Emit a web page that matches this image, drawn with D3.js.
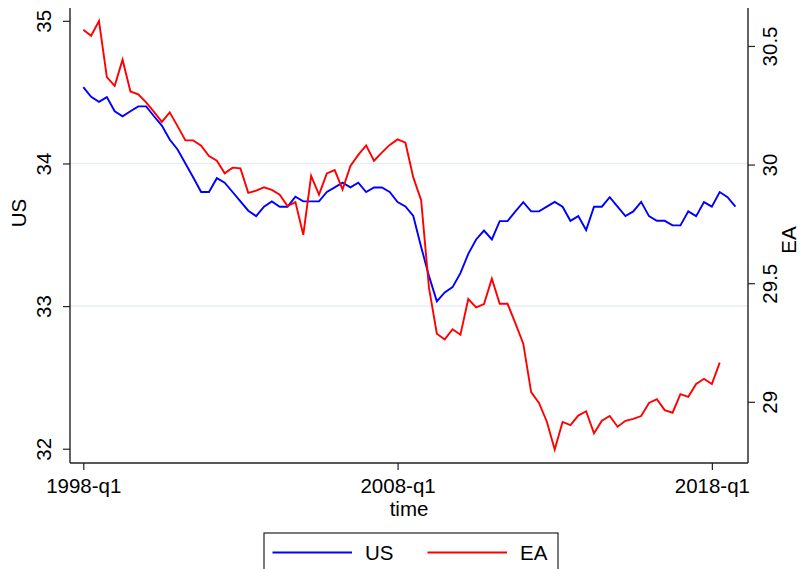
<!DOCTYPE html>
<html>
<head>
<meta charset="utf-8">
<script src="https://cdn.jsdelivr.net/npm/d3@7/dist/d3.min.js"></script>
<style>
  html, body { margin: 0; padding: 0; background: #fff; }
  svg { display: block; font-family: "Liberation Sans", Arial, sans-serif; }
</style>
</head>
<body>
<svg id="chart" width="801" height="569"></svg>
<script>
// Quarterly series, 1998-q1 onward
const usValues = [
  34.535, 34.467, 34.432, 34.465, 34.366, 34.331, 34.366, 34.400, 34.400, 34.331,
  34.266, 34.168, 34.098, 34.000, 33.902, 33.800, 33.800, 33.897, 33.865, 33.800,
  33.734, 33.669, 33.631, 33.697, 33.734, 33.697, 33.697, 33.767, 33.734, 33.734,
  33.734, 33.800, 33.832, 33.865, 33.832, 33.865, 33.800, 33.832, 33.832, 33.800,
  33.729, 33.699, 33.632, 33.415, 33.210, 33.033, 33.096, 33.133, 33.231, 33.366,
  33.467, 33.530, 33.467, 33.596, 33.596, 33.664, 33.729, 33.664, 33.664, 33.697,
  33.730, 33.697, 33.598, 33.631, 33.533, 33.697, 33.697, 33.764, 33.697, 33.631,
  33.664, 33.731, 33.631, 33.598, 33.598, 33.566, 33.566, 33.664, 33.631, 33.729,
  33.697, 33.800, 33.764, 33.697
];

const eaValues = [
  30.568, 30.543, 30.605, 30.369, 30.332, 30.442, 30.308, 30.296, 30.262, 30.222,
  30.180, 30.220, 30.162, 30.102, 30.102, 30.080, 30.036, 30.016, 29.963, 29.987,
  29.984, 29.881, 29.890, 29.904, 29.893, 29.873, 29.825, 29.842, 29.704, 29.952,
  29.873, 29.963, 29.977, 29.895, 29.994, 30.041, 30.081, 30.016, 30.050, 30.083,
  30.106, 30.092, 29.946, 29.850, 29.480, 29.287, 29.263, 29.306, 29.283, 29.433,
  29.398, 29.412, 29.519, 29.413, 29.413, 29.331, 29.245, 29.041, 28.995, 28.916,
  28.799, 28.915, 28.902, 28.942, 28.960, 28.867, 28.920, 28.940, 28.895, 28.920,
  28.928, 28.940, 28.995, 29.011, 28.965, 28.954, 29.032, 29.021, 29.075, 29.097,
  29.075, 29.165
];

const xTickIndex = [0, 40, 80];
const xTickLabels = ["1998-q1", "2008-q1", "2018-q1"];
const usTicks = [32, 33, 34, 35];
const usGrid = [33, 34];
const eaTicks = [29, 29.5, 30, 30.5];
const seriesNames = ["US", "EA"];
const seriesColors = ["#0000ff", "#ff0000"];

const svg = d3.select("#chart");
const plot = { left: 70, right: 748, top: 8, bottom: 463 };
const fontSize = 20.5;
const axisColor = "#222";

const x = d3.scaleLinear().domain([-1.69, 84.6]).range([plot.left, plot.right]);
const yUS = d3.scaleLinear().domain([31.9, 35.09]).range([plot.bottom, plot.top]);
const yEA = d3.scaleLinear().domain([28.742, 30.66]).range([plot.bottom, plot.top]);

// grid lines
svg.append("g").selectAll("line").data(usGrid).join("line")
  .attr("x1", plot.left).attr("x2", plot.right)
  .attr("y1", d => yUS(d)).attr("y2", d => yUS(d))
  .attr("stroke", "#e6eef2").attr("stroke-width", 1.5);

// series lines
const lineUS = d3.line().x((d, i) => x(i)).y(d => yUS(d));
const lineEA = d3.line().x((d, i) => x(i)).y(d => yEA(d));

svg.append("path").datum(usValues).attr("d", lineUS)
  .attr("fill", "none").attr("stroke", seriesColors[0])
  .attr("stroke-width", 1.9).attr("stroke-linejoin", "miter");
svg.append("path").datum(eaValues).attr("d", lineEA)
  .attr("fill", "none").attr("stroke", seriesColors[1])
  .attr("stroke-width", 1.9).attr("stroke-linejoin", "miter");

// left axis (labels rotated, reading upward)
const leftAxis = svg.append("g").attr("transform", `translate(${plot.left},0)`)
  .call(d3.axisLeft(yUS).tickValues(usTicks).tickSize(7).tickFormat(d3.format("d")));
leftAxis.select(".domain").attr("d", `M0,${plot.top}V${plot.bottom}`);
leftAxis.selectAll("text")
  .attr("transform", "translate(-19,0) rotate(-90)")
  .attr("x", 0).attr("y", 0).attr("dy", 0)
  .attr("text-anchor", "middle");

// right axis
const rightAxis = svg.append("g").attr("transform", `translate(${plot.right},0)`)
  .call(d3.axisRight(yEA).tickValues(eaTicks).tickSize(7).tickFormat(d => String(d)));
rightAxis.select(".domain").attr("d", `M0,${plot.top}V${plot.bottom}`);
rightAxis.selectAll("text")
  .attr("transform", "translate(29,0) rotate(-90)")
  .attr("x", 0).attr("y", 0).attr("dy", 0)
  .attr("text-anchor", "middle");

// bottom axis
const bottomAxis = svg.append("g").attr("transform", `translate(0,${plot.bottom})`)
  .call(d3.axisBottom(x).tickValues(xTickIndex).tickSize(7)
    .tickFormat((d, i) => xTickLabels[i]));
bottomAxis.select(".domain").attr("d", `M${plot.left},0H${plot.right}`);
bottomAxis.selectAll("text").attr("y", 30).attr("dy", 0);

[leftAxis, rightAxis, bottomAxis].forEach(g => {
  g.attr("font-family", null).attr("font-size", null);
  g.select(".domain").attr("stroke", axisColor).attr("stroke-width", 1.4);
  g.selectAll(".tick line").attr("stroke", axisColor).attr("stroke-width", 1.2);
  g.selectAll("text").attr("fill", "#000").style("font-size", fontSize + "px");
});

// axis titles
svg.append("text").attr("transform", "translate(26,213) rotate(-90)")
  .attr("text-anchor", "middle").style("font-size", fontSize + "px").text("US");
svg.append("text").attr("transform", "translate(796,240) rotate(-90)")
  .attr("text-anchor", "middle").style("font-size", fontSize + "px").text("EA");
svg.append("text").attr("x", (plot.left + plot.right) / 2).attr("y", 516)
  .attr("text-anchor", "middle").style("font-size", fontSize + "px").text("time");

// legend
const legend = svg.append("g");
legend.append("rect").attr("x", 264).attr("y", 533).attr("width", 294).attr("height", 60)
  .attr("fill", "#fff").attr("stroke", axisColor).attr("stroke-width", 1.2);
const legendItems = [
  { x1: 272.5, x2: 352, tx: 365 },
  { x1: 427.5, x2: 507, tx: 520 }
];
legendItems.forEach((p, i) => {
  legend.append("line").attr("x1", p.x1).attr("x2", p.x2).attr("y1", 552.5).attr("y2", 552.5)
    .attr("stroke", seriesColors[i]).attr("stroke-width", 1.9);
  legend.append("text").attr("x", p.tx).attr("y", 560)
    .style("font-size", fontSize + "px").text(seriesNames[i]);
});
</script>
</body>
</html>
